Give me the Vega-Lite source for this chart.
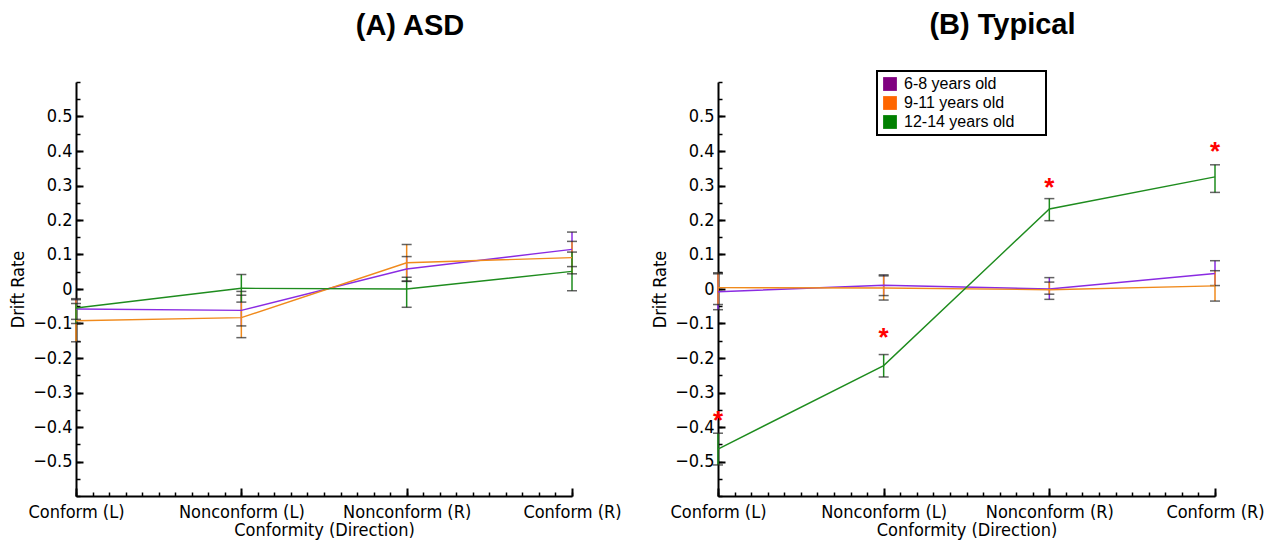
{
  "$schema": "https://vega.github.io/schema/vega-lite/v6.json",
  "background": "white",
  "padding": {"left": 9, "top": 11, "right": 5, "bottom": 5},
  "bounds": "flush",
  "spacing": 146,
  "resolve": {"legend": {"color": "independent"}},
  "datasets": {
    "d": [
      {"panel": "A", "cond": 0, "group": "6-8 years old", "value": -0.058, "lo": -0.088, "hi": -0.028},
      {"panel": "A", "cond": 1, "group": "6-8 years old", "value": -0.062, "lo": -0.107, "hi": -0.018},
      {"panel": "A", "cond": 2, "group": "6-8 years old", "value": 0.058, "lo": 0.022, "hi": 0.094},
      {"panel": "A", "cond": 3, "group": "6-8 years old", "value": 0.115, "lo": 0.065, "hi": 0.165},
      {"panel": "A", "cond": 0, "group": "9-11 years old", "value": -0.092, "lo": -0.153, "hi": -0.031},
      {"panel": "A", "cond": 1, "group": "9-11 years old", "value": -0.083, "lo": -0.141, "hi": -0.007},
      {"panel": "A", "cond": 2, "group": "9-11 years old", "value": 0.076, "lo": 0.023, "hi": 0.129},
      {"panel": "A", "cond": 3, "group": "9-11 years old", "value": 0.091, "lo": 0.044, "hi": 0.138},
      {"panel": "A", "cond": 0, "group": "12-14 years old", "value": -0.055, "lo": -0.1, "hi": -0.042},
      {"panel": "A", "cond": 1, "group": "12-14 years old", "value": 0.002, "lo": -0.038, "hi": 0.042},
      {"panel": "A", "cond": 2, "group": "12-14 years old", "value": 0.0, "lo": -0.053, "hi": 0.034},
      {"panel": "A", "cond": 3, "group": "12-14 years old", "value": 0.051, "lo": -0.005, "hi": 0.107},
      {"panel": "B", "cond": 0, "group": "6-8 years old", "value": -0.008, "lo": -0.06, "hi": 0.044},
      {"panel": "B", "cond": 1, "group": "6-8 years old", "value": 0.011, "lo": -0.019, "hi": 0.041},
      {"panel": "B", "cond": 2, "group": "6-8 years old", "value": 0.0, "lo": -0.03, "hi": 0.033},
      {"panel": "B", "cond": 3, "group": "6-8 years old", "value": 0.045, "lo": 0.01, "hi": 0.082},
      {"panel": "B", "cond": 0, "group": "9-11 years old", "value": 0.004, "lo": -0.045, "hi": 0.047},
      {"panel": "B", "cond": 1, "group": "9-11 years old", "value": 0.003, "lo": -0.032, "hi": 0.038},
      {"panel": "B", "cond": 2, "group": "9-11 years old", "value": -0.002, "lo": -0.015, "hi": 0.02},
      {"panel": "B", "cond": 3, "group": "9-11 years old", "value": 0.009, "lo": -0.035, "hi": 0.053},
      {"panel": "B", "cond": 0, "group": "12-14 years old", "value": -0.464, "lo": -0.51, "hi": -0.418},
      {"panel": "B", "cond": 1, "group": "12-14 years old", "value": -0.222, "lo": -0.255, "hi": -0.19},
      {"panel": "B", "cond": 2, "group": "12-14 years old", "value": 0.232, "lo": 0.198, "hi": 0.262},
      {"panel": "B", "cond": 3, "group": "12-14 years old", "value": 0.325, "lo": 0.28, "hi": 0.36}
    ],
    "stars": [
      {"cond": 0, "y": -0.372, "label": "*"},
      {"cond": 1, "y": -0.13, "label": "*"},
      {"cond": 2, "y": 0.305, "label": "*"},
      {"cond": 3, "y": 0.41, "label": "*"}
    ]
  },
  "hconcat": [
    {
      "width": 496,
      "height": 414,
      "title": {"text": "(A) ASD", "dx": 86, "offset": 40},
      "data": {"name": "d"},
      "transform": [{"filter": "datum.panel == 'A'"}],
      "resolve": {"axis": {"x": "independent", "y": "independent"}},
      "layer": [
        {
          "mark": {"type": "rule", "strokeWidth": 1.5},
          "encoding": {
            "x": {"field": "cond", "type": "quantitative", "scale": {"domain": [0, 3], "nice": false, "zero": false},
                  "axis": {"values": [0, 1, 2, 3], "labelExpr": "['Conform (L)','Nonconform (L)','Nonconform (R)','Conform (R)'][datum.value]", "tickSize": -8, "labelPadding": 15, "title": "Conformity (Direction)", "titlePadding": 0, "labelFlush": false}},
            "y": {"field": "lo", "type": "quantitative", "scale": {"domain": [-0.6, 0.6], "nice": false},
                  "axis": {"values": [-0.5, -0.4, -0.3, -0.2, -0.1, 0, 0.1, 0.2, 0.3, 0.4, 0.5], "format": ".1~f", "tickSize": -7, "labelPadding": 11, "title": "Drift Rate", "titlePadding": 5}},
            "y2": {"field": "hi"},
            "color": {"field": "group", "type": "nominal", "scale": {"domain": ["6-8 years old", "9-11 years old", "12-14 years old"], "range": ["#8A2BE2", "#F08A1C", "#1E8C1E"]}, "legend": null}
          }
        },
        {
          "mark": {"type": "tick", "orient": "horizontal", "size": 10, "thickness": 1.5, "color": "#222222"},
          "encoding": {
            "x": {"field": "cond", "type": "quantitative", "axis": null},
            "y": {"field": "lo", "type": "quantitative", "axis": null}
          }
        },
        {
          "mark": {"type": "tick", "orient": "horizontal", "size": 10, "thickness": 1.5, "color": "#222222"},
          "encoding": {
            "x": {"field": "cond", "type": "quantitative", "axis": null},
            "y": {"field": "hi", "type": "quantitative", "axis": null}
          }
        },
        {
          "mark": {"type": "line", "strokeWidth": 1.4},
          "encoding": {
            "x": {"field": "cond", "type": "quantitative",
                  "axis": {"values": [0,0.1,0.2,0.3,0.4,0.5,0.6,0.7,0.8,0.9,1,1.1,1.2,1.3,1.4,1.5,1.6,1.7,1.8,1.9,2,2.1,2.2,2.3,2.4,2.5,2.6,2.7,2.8,2.9,3], "labels": false, "domain": false, "tickSize": -4, "title": null, "orient": "bottom", "tickWidth": 1.5}},
            "y": {"field": "value", "type": "quantitative",
                  "axis": {"values": [-0.6,-0.55,-0.5,-0.45,-0.4,-0.35,-0.3,-0.25,-0.2,-0.15,-0.1,-0.05,0,0.05,0.1,0.15,0.2,0.25,0.3,0.35,0.4,0.45,0.5,0.55,0.6], "labels": false, "domain": false, "tickSize": -4, "title": null, "orient": "left", "tickWidth": 1.5}},
            "color": {"field": "group", "type": "nominal", "legend": null},
            "detail": {"field": "group"}
          }
        }
      ]
    },
    {
      "width": 497,
      "height": 414,
      "title": {"text": "(B) Typical", "dx": 36, "offset": 30},
      "resolve": {"axis": {"x": "independent", "y": "independent"}},
      "layer": [
        {
          "data": {"name": "d"},
          "transform": [{"filter": "datum.panel == 'B'"}],
          "mark": {"type": "rule", "strokeWidth": 1.5},
          "encoding": {
            "x": {"field": "cond", "type": "quantitative", "scale": {"domain": [0, 3], "nice": false, "zero": false},
                  "axis": {"values": [0, 1, 2, 3], "labelExpr": "['Conform (L)','Nonconform (L)','Nonconform (R)','Conform (R)'][datum.value]", "tickSize": -8, "labelPadding": 15, "title": "Conformity (Direction)", "titlePadding": 0, "labelFlush": false}},
            "y": {"field": "lo", "type": "quantitative", "scale": {"domain": [-0.6, 0.6], "nice": false},
                  "axis": {"values": [-0.5, -0.4, -0.3, -0.2, -0.1, 0, 0.1, 0.2, 0.3, 0.4, 0.5], "format": ".1~f", "tickSize": -7, "labelPadding": 11, "title": "Drift Rate", "titlePadding": 5}},
            "y2": {"field": "hi"},
            "color": {
              "field": "group",
              "type": "nominal",
              "legend": {
                "title": "MM", "titleOrient": "right", "titleColor": "white", "titleFontSize": 16, "titleFont": "Liberation Sans", "titlePadding": 0,
                "orient": "none", "legendX": 159, "legendY": -11,
                "symbolType": "square", "symbolSize": 190, "symbolStrokeWidth": 0,
                "labelFontSize": 16, "labelFont": "Liberation Sans", "labelColor": "black",
                "strokeColor": "black", "padding": 5, "rowPadding": 3, "labelOffset": 6, "labelLimit": 300,
                "encode": {
                  "symbols": {
                    "update": {
                      "fill": {"signal": "datum.value === '6-8 years old' ? '#800080' : datum.value === '9-11 years old' ? '#FF6600' : '#008000'"},
                      "opacity": {"value": 1},
                      "strokeWidth": {"value": 0}
                    }
                  },
                  "legend": {
                    "update": {
                      "strokeWidth": {"value": 2}
                    }
                  }
                }
              }
            }
          }
        },
        {
          "data": {"name": "d"},
          "transform": [{"filter": "datum.panel == 'B'"}],
          "mark": {"type": "tick", "orient": "horizontal", "size": 10, "thickness": 1.5, "color": "#222222"},
          "encoding": {
            "x": {"field": "cond", "type": "quantitative", "axis": null},
            "y": {"field": "lo", "type": "quantitative", "axis": null}
          }
        },
        {
          "data": {"name": "d"},
          "transform": [{"filter": "datum.panel == 'B'"}],
          "mark": {"type": "tick", "orient": "horizontal", "size": 10, "thickness": 1.5, "color": "#222222"},
          "encoding": {
            "x": {"field": "cond", "type": "quantitative", "axis": null},
            "y": {"field": "hi", "type": "quantitative", "axis": null}
          }
        },
        {
          "data": {"name": "d"},
          "transform": [{"filter": "datum.panel == 'B'"}],
          "mark": {"type": "line", "strokeWidth": 1.4},
          "encoding": {
            "x": {"field": "cond", "type": "quantitative",
                  "axis": {"values": [0,0.1,0.2,0.3,0.4,0.5,0.6,0.7,0.8,0.9,1,1.1,1.2,1.3,1.4,1.5,1.6,1.7,1.8,1.9,2,2.1,2.2,2.3,2.4,2.5,2.6,2.7,2.8,2.9,3], "labels": false, "domain": false, "tickSize": -4, "title": null, "orient": "bottom", "tickWidth": 1.5}},
            "y": {"field": "value", "type": "quantitative",
                  "axis": {"values": [-0.6,-0.55,-0.5,-0.45,-0.4,-0.35,-0.3,-0.25,-0.2,-0.15,-0.1,-0.05,0,0.05,0.1,0.15,0.2,0.25,0.3,0.35,0.4,0.45,0.5,0.55,0.6], "labels": false, "domain": false, "tickSize": -4, "title": null, "orient": "left", "tickWidth": 1.5}},
            "color": {"field": "group", "type": "nominal"},
            "detail": {"field": "group"}
          }
        },
        {
          "data": {"name": "stars"},
          "mark": {"type": "text", "color": "#FF0000", "fontSize": 26, "font": "Liberation Sans", "fontWeight": "bold", "baseline": "middle", "dy": 4},
          "encoding": {
            "x": {"field": "cond", "type": "quantitative", "axis": null},
            "y": {"field": "y", "type": "quantitative", "axis": null},
            "text": {"field": "label"}
          }
        }
      ]
    }
  ],
  "config": {
    "view": {"stroke": null},
    "title": {"font": "Liberation Sans", "fontSize": 29, "fontWeight": "bold", "color": "black", "anchor": "middle"},
    "axis": {
      "domainColor": "black", "domainWidth": 2, "tickColor": "black", "tickWidth": 2,
      "labelFont": "DejaVu Sans Condensed", "labelFontSize": 18, "labelColor": "black",
      "titleFont": "DejaVu Sans Condensed", "titleFontSize": 18, "titleFontWeight": "normal", "titleColor": "black",
      "grid": false
    }
  }
}
